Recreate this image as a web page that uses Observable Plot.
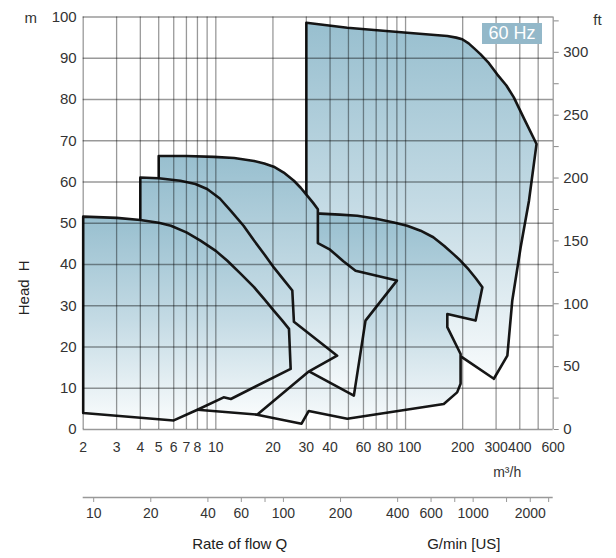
<!DOCTYPE html>
<html>
<head>
<meta charset="utf-8">
<script src="https://cdn.jsdelivr.net/npm/d3@7"></script>
<script src="https://cdn.jsdelivr.net/npm/@observablehq/plot@0.6"></script>
<style>
  body { margin: 0; background: #fff; }
  #wrap { position: relative; width: 616px; font-family: "Liberation Sans", Arial, sans-serif; }
  #wrap svg { display: block; }
  #hz { position: absolute; left: 482px; top: 23px; width: 60px; height: 21px; line-height: 21px;
        background: #93b8c9; color: #fff; font-size: 18px; text-align: center; }
</style>
</head>
<body>
<div id="wrap"><div id="hz">60 Hz</div></div>
<script>
// ---- data: pump performance ranges, [Q m³/h, H m] ----
const pumpE = [[30,98.6],[49.3,97.4],[102,96.2],[166,95.4],[185,95.0],[199,94.6],[215,93.6],[230,92.4],[248,91.0],[275,88.8],[304,86.1],[340,83.4],[372,80.5],[420,75.5],[490,69.2],[447,55.4],[404,44.1],[365,31.2],[344,17.9],[292,12.3],[199,17.5],[188,17.8],[30,17.8]];
const pumpD = [[33.5,52.4],[45,52.1],[55.7,51.8],[70,51.1],[86.8,50.2],[102,49.4],[120,48.2],[140,46.6],[160,44.5],[180,42.4],[195,40.9],[215,38.8],[235,36.6],[254,34.5],[234,26.4],[166,28.0],[166,24.8],[195,18.3],[195,11.1],[187,9.0],[159,6.2],[49.3,2.6],[30.9,4.5],[28.3,1.4],[16.5,3.6],[20,10],[28,28],[32,44]];
const pumpC = [[5,66.3],[7,66.3],[9.76,66.1],[12.5,65.8],[15.9,65.1],[18,64.5],[20.2,63.7],[22.8,62.3],[25.8,60.3],[28,58.6],[30.3,56.7],[32.5,55.0],[34.5,53.4],[34.5,45.2],[40,43.6],[47,40.8],[54.5,38.5],[90,36.1],[61.5,26.4],[53.4,8.2],[31,14.1],[20,12],[5,30]];
const pumpB = [[4,61.1],[5,60.9],[6.5,60.3],[7.8,59.5],[9,58.3],[10.5,56.0],[12,53.0],[14,49.4],[15.9,45.8],[18,42.5],[20.2,39.3],[22.7,36.4],[25.3,33.7],[25.8,26.1],[43.6,17.9],[31,14.1],[16.5,3.6],[8,4.8],[6,8],[4,8]];
const pumpA = [[2,4.0],[2,51.6],[3,51.3],[4,50.8],[5,50.1],[5.8,49.4],[7,47.8],[8.3,45.8],[10,43.3],[11.5,40.9],[13.5,37.8],[15.9,34.5],[18,31.6],[20.2,28.8],[22.3,26.5],[24.3,24.4],[24.8,14.7],[12,7.4],[11,7.8],[8,4.8],[6,2.2]];
const pumpsBottomToTop = [pumpE, pumpD, pumpC, pumpB, pumpA];

// ---- axes / ticks ----
const xGrid = [2,3,4,5,6,7,8,9,10,20,30,40,50,60,70,80,90,100,200,300,400,500,600];
const xLabels = [2,3,4,5,6,7,8,10,20,30,40,60,80,100,200,300,400,600];
const yTicks = [0,10,20,30,40,50,60,70,80,90,100];
const ftTicks = [0,25,50,75,100,125,150,175,200,225,250,275,300,325];
const ftLabels = [0,50,100,150,200,250,300];
const gpmTicks = [10,20,40,60,80,100,200,400,600,800,1000,1500,2000,2500];
const gpmLabels = [10,20,40,60,100,200,400,600,1000,2000];
const FT_TO_M = 0.3048;
const M3H_TO_GPM = 4.403;

const W = 616, ML = 82.7, MR = 63.3;
const font = {fontFamily: "'Liberation Sans', Arial, sans-serif", fontSize: "15px", color: "#333", background: "#fff"};

function pumpMark(pts) {
  const closed = pts.concat([pts[0]]);
  return Plot.line(closed, {x: d => d[0], y: d => d[1], fill: "url(#pumpFill)",
    stroke: "#161616", strokeWidth: 2.6, strokeLinejoin: "round"});
}

// x tick labels; 80 and 100 nudged apart slightly as in the reference
const xLabelOpts = {x: d => d, frameAnchor: "bottom", lineAnchor: "middle", dy: 18, text: d => String(d), fill: "#333", fontSize: 14};

const main = Plot.plot({
  width: W, height: 488, marginLeft: ML, marginRight: MR, marginTop: 16.5, marginBottom: 59,
  style: font,
  x: {type: "log", domain: [2, 600], axis: null},
  y: {domain: [0, 100]},
  marks: [
    ...pumpsBottomToTop.map(pumpMark),
    Plot.ruleX(xGrid, {stroke: "#000", strokeOpacity: 0.4, strokeWidth: 1.3}),
    Plot.ruleY(yTicks, {stroke: "#000", strokeOpacity: 0.4, strokeWidth: 1.3}),
    Plot.text(xLabels.filter(d => d !== 80 && d !== 100), xLabelOpts),
    Plot.text(xLabels.filter(d => d === 80), {...xLabelOpts, dx: -2}),
    Plot.text(xLabels.filter(d => d === 100), {...xLabelOpts, dx: 4}),
    Plot.axisY(yTicks, {anchor: "left", tickSize: 0, tickPadding: 6.5, tickFormat: d => String(d), label: null}),
    Plot.axisY(ftTicks.map(f => f * FT_TO_M), {anchor: "right", tickSize: 5, tickPadding: 5, stroke: "#888",
      tickFormat: d => { const f = Math.round(d / FT_TO_M); return ftLabels.includes(f) ? String(f) : ""; }, label: null}),
    Plot.text(["m"], {frameAnchor: "top-left", lineAnchor: "middle", dx: -58.7, dy: 1, text: d => d, fill: "#333"}),
    Plot.text(["ft"], {frameAnchor: "top-right", lineAnchor: "middle", dx: 48.5, dy: 3, text: d => d, fill: "#333"}),
    Plot.text(["m³/h"], {frameAnchor: "bottom-right", lineAnchor: "middle", dx: -32, dy: 43, text: d => d, fill: "#333", fontSize: 14}),
    Plot.text(["Head"], {frameAnchor: "left", lineAnchor: "middle", dx: -59.2, dy: 92, rotate: -90, text: d => d, fill: "#222"}),
    Plot.text(["H"], {frameAnchor: "left", lineAnchor: "middle", dx: -59.2, dy: 48, rotate: -90, text: d => d, fill: "#222"})
  ]
});

// gradient used by every pump range (per-shape vertical gradient)
const defs = d3.select(main).insert("defs", ":first-child");
const grad = defs.append("linearGradient").attr("id", "pumpFill")
  .attr("x1", 0).attr("y1", 0).attr("x2", 0).attr("y2", 1);
grad.append("stop").attr("offset", "0").attr("stop-color", "#98bfcf");
grad.append("stop").attr("offset", "0.5").attr("stop-color", "#c3dae4");
grad.append("stop").attr("offset", "1").attr("stop-color", "#f8fbfc");

const second = Plot.plot({
  width: W, height: 70, marginLeft: ML, marginRight: MR, marginTop: 0, marginBottom: 61,
  style: font,
  x: {type: "log", domain: [2 * M3H_TO_GPM, 600 * M3H_TO_GPM], axis: null},
  y: {domain: [0, 1], axis: null},
  marks: [
    Plot.ruleY([0], {stroke: "#999", strokeWidth: 1.4}),
    Plot.axisX(gpmTicks, {anchor: "bottom", tickSize: 5, tickPadding: 4, stroke: "#999",
      tickFormat: () => "", label: null}),
    Plot.text(gpmLabels, {x: d => d, frameAnchor: "bottom", lineAnchor: "middle", dy: 16, text: d => String(d), fill: "#333", fontSize: 14}),
    Plot.text(["Rate of flow Q"], {frameAnchor: "bottom-left", lineAnchor: "middle", dx: 109, dy: 47, text: d => d, fill: "#222"}),
    Plot.text(["G/min [US]"], {frameAnchor: "bottom-right", lineAnchor: "middle", dx: -52.7, dy: 47, text: d => d, fill: "#222"})
  ]
});

const wrap = document.getElementById("wrap");
wrap.insertBefore(second, wrap.firstChild);
wrap.insertBefore(main, wrap.firstChild);
</script>
</body>
</html>
